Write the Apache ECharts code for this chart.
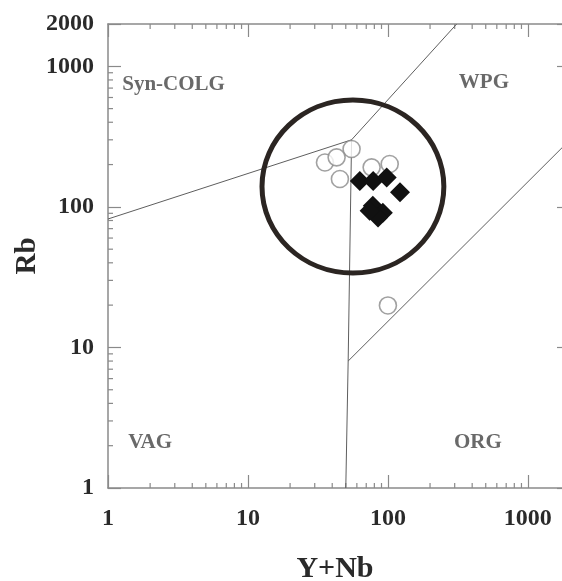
<!DOCTYPE html>
<html><head><meta charset="utf-8">
<script src="https://cdn.jsdelivr.net/npm/echarts@6/dist/echarts.min.js"></script>
<style>html,body{margin:0;padding:0;background:#fff}#c{width:562px;height:581px}</style>
</head><body><div id="c"></div>
<script>
// ---- data ----
const xAxisRange = [1, 2000];
const yAxisRange = [1, 2000];
const openCircles = [[55,258],[35.5,207],[43,225],[45.4,158],[76.5,191],[103,202],[100,19.9]];
const filledDiamonds = [[63,153],[78.5,153],[98,162],[122,127],[78,102],[92,91],[85,84],[74,94]];
const boundaryVagSyn = [[1,82],[55,300]];
const boundarySynWpg = [[55,300],[310,2000]];
const boundaryVagWpg = [[50,1],[52,8],[55,300]];
const boundaryWpgOrg = [[52,8],[2000,300]];
const fieldNames = ['Syn-COLG','WPG','VAG','ORG'];
const fieldPositions = [[2.94,747],[485,760],[2.0,2.09],[439,2.09]];
const highlightBox = {xMin:12.6, xMax:251, yMin:33.8, yMax:575};

(function () {
const SERIF = "'Liberation Serif','DejaVu Serif',serif";
const axisGray = '#8a8a8a';
const textCol = '#2a2a2a';

function mkAxis(isX, position, showLabels) {
  return {
    type: 'log', logBase: 10,
    position: position,
    min: isX ? xAxisRange[0] : yAxisRange[0],
    max: isX ? xAxisRange[1] : yAxisRange[1],
    axisLine: {show: true, lineStyle: {color: axisGray, width: 1.5}},
    axisTick: {show: true, inside: true, length: 13, lineStyle: {color: axisGray, width: 1.2}},
    splitLine: {show: false},
    minorTick: {show: false},
    axisLabel: {show: showLabels, fontFamily: SERIF, fontWeight: 'bold', fontSize: 24, color: textCol,
                margin: isX ? 19 : 14, showMaxLabel: !isX,
                formatter: function (v) { return String(Math.round(v)); }}
  };
}

const chart = echarts.init(document.getElementById('c'), null, {renderer: 'canvas'});

const xBottom = mkAxis(true, 'bottom', true);
xBottom.name = 'Y+Nb';
xBottom.nameLocation = 'middle';
xBottom.nameGap = 66;
xBottom.nameMoveOverlap = false;
xBottom.nameTextStyle = {fontFamily: SERIF, fontWeight: 'bold', fontSize: 30, color: textCol, padding: [0, 8, 0, 0]};
const yLeft = mkAxis(false, 'left', true);
yLeft.name = 'Rb';
yLeft.nameLocation = 'middle';
yLeft.nameGap = 66;
yLeft.nameMoveOverlap = false;
yLeft.nameTextStyle = {fontFamily: SERIF, fontWeight: 'bold', fontSize: 29, color: textCol};

const lineStyle = {color: '#5e5e5e', width: 1};
function boundary(data) {
  return {type: 'line', xAxisIndex: 0, yAxisIndex: 0, data: data, symbol: 'none',
          lineStyle: lineStyle, silent: true, z: 1, animation: false};
}

chart.setOption({
  animation: false,
  backgroundColor: '#fff',
  grid: {left: 108, right: -8, top: 24, bottom: 93, containLabel: false, outerBoundsMode: 'none'},
  xAxis: [xBottom, mkAxis(true, 'top', false)],
  yAxis: [yLeft, mkAxis(false, 'right', false)],
  series: [
    boundary(boundaryVagSyn),
    boundary(boundarySynWpg),
    boundary(boundaryVagWpg),
    boundary(boundaryWpgOrg),
    {type: 'scatter', name: 'open', xAxisIndex: 0, yAxisIndex: 0, data: openCircles,
     symbol: 'circle', symbolSize: 17, z: 3,
     itemStyle: {color: '#fff', borderColor: '#8a8a8a', borderWidth: 1.6}},
    {type: 'scatter', name: 'filled', xAxisIndex: 0, yAxisIndex: 0, data: filledDiamonds,
     symbol: 'diamond', symbolSize: 20, z: 4,
     itemStyle: {color: '#111', opacity: 1}},
    {type: 'scatter', name: 'fields', xAxisIndex: 0, yAxisIndex: 0, symbolSize: 0, silent: true, z: 5,
     data: fieldNames.map((n, i) => ({name: n, value: fieldPositions[i]})),
     label: {show: true, position: 'inside', formatter: '{b}', fontFamily: SERIF, fontWeight: 'bold',
             fontSize: 21, color: '#444'}}
  ]
});

// minor log ticks on all four sides + highlight ellipse, positioned through the axes' scales
const gx = v => chart.convertToPixel({xAxisIndex: 0}, v);
const gy = v => chart.convertToPixel({yAxisIndex: 0}, v);
const pLeft = gx(xAxisRange[0]), pRight = gx(xAxisRange[1]);
const pBottom = gy(yAxisRange[0]), pTop = gy(yAxisRange[1]);
const minorLen = 5;
const graphics = [];
const tickStyle = {stroke: axisGray, lineWidth: 1.2};
for (let k = 0; k < 4; k++) {
  for (let m = 2; m <= 9; m++) {
    const v = m * Math.pow(10, k);
    if (v < xAxisRange[1]) {
      const px = gx(v);
      graphics.push({type: 'line', silent: true, shape: {x1: px, y1: pBottom, x2: px, y2: pBottom - minorLen}, style: tickStyle});
      graphics.push({type: 'line', silent: true, shape: {x1: px, y1: pTop, x2: px, y2: pTop + minorLen}, style: tickStyle});
    }
    if (v < yAxisRange[1]) {
      const py = gy(v);
      graphics.push({type: 'line', silent: true, shape: {x1: pLeft, y1: py, x2: pLeft + minorLen, y2: py}, style: tickStyle});
      graphics.push({type: 'line', silent: true, shape: {x1: pRight, y1: py, x2: pRight - minorLen, y2: py}, style: tickStyle});
    }
  }
}
const ex1 = gx(highlightBox.xMin), ex2 = gx(highlightBox.xMax);
const ey1 = gy(highlightBox.yMax), ey2 = gy(highlightBox.yMin);
graphics.push({type: 'ellipse', silent: true, z: 100,
  shape: {cx: (ex1 + ex2) / 2, cy: (ey1 + ey2) / 2, rx: (ex2 - ex1) / 2, ry: (ey2 - ey1) / 2},
  style: {fill: null, stroke: '#2b2522', lineWidth: 5}});
chart.setOption({graphic: graphics});
})();
</script>
</body></html>
